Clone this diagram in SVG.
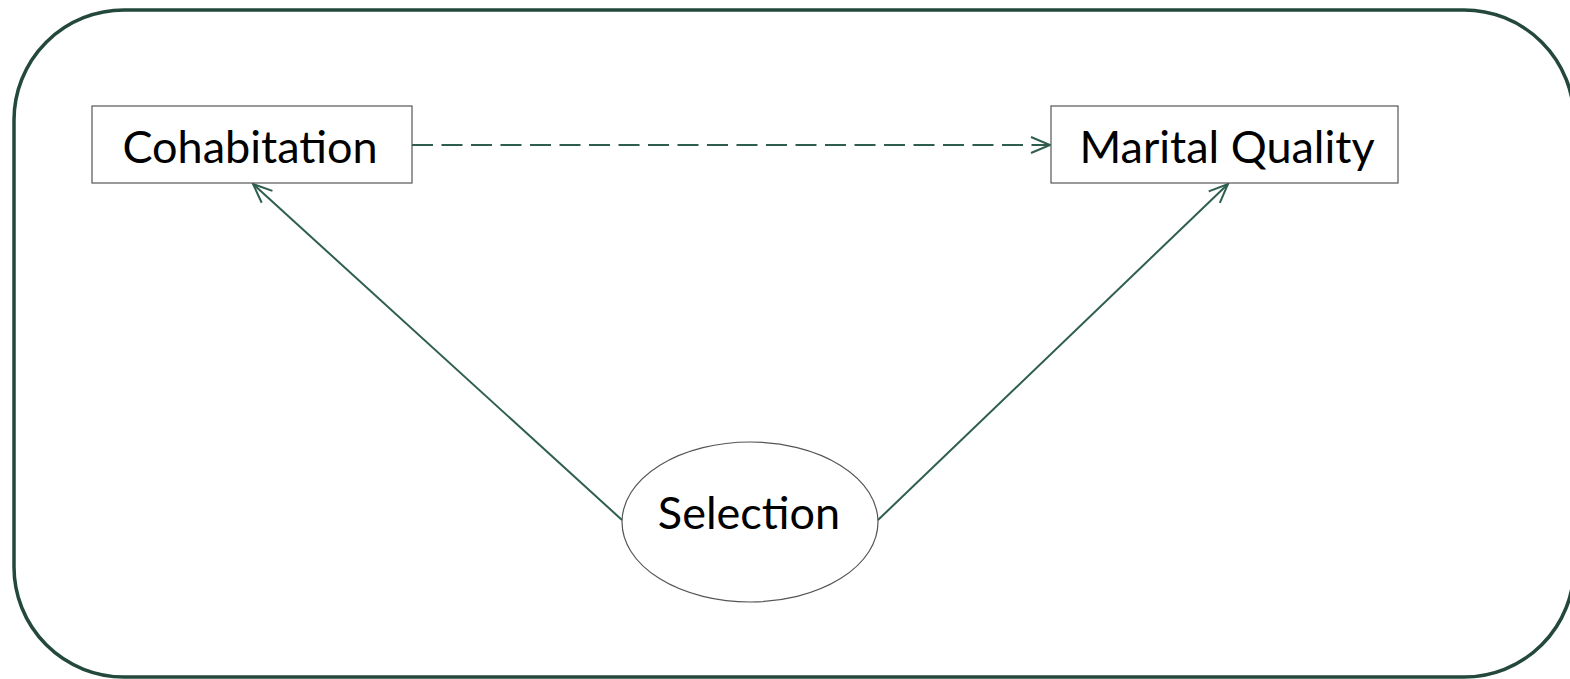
<svg xmlns="http://www.w3.org/2000/svg" width="1570" height="679" viewBox="0 0 1570 679">
  <defs>
    <marker id="arrow" viewBox="0 0 22 20" refX="20" refY="10" markerWidth="22" markerHeight="20" markerUnits="userSpaceOnUse" orient="auto">
      <path d="M1,2 L20,10 L1,18" fill="none" stroke="#2e5e4e" stroke-width="2" stroke-linejoin="miter"/>
    </marker>
    <style>
      .frame { fill: #ffffff; stroke: #24493c; stroke-width: 3.5; }
      .node { fill: #ffffff; stroke: #555555; stroke-width: 1.2; }
      .label { font-family: Lato, "Open Sans", sans-serif; font-size: 45px; fill: #000000; text-anchor: middle; }
      .edge { fill: none; stroke: #2e5e4e; stroke-width: 2; marker-end: url(#arrow); }
      .dashed { stroke-dasharray: 21 8.5; }
    </style>
  </defs>
  <rect width="1570" height="679" fill="#ffffff"/>
  <!-- outer rounded frame -->
  <rect class="frame" x="14" y="10" width="1560" height="667" rx="110" ry="110"/>

  <g id="connectors">
    <line class="edge dashed" x1="412" y1="145" x2="1050" y2="145"/>
    <line class="edge" x1="622" y1="520" x2="253" y2="184"/>
    <line class="edge" x1="878" y1="520" x2="1228" y2="184"/>
  </g>

  <g id="cohabitation">
    <rect class="node" x="92" y="106" width="320" height="77"/>
    <text class="label" x="250" y="163">Cohabitation</text>
  </g>

  <g id="marital-quality">
    <rect class="node" x="1051" y="106" width="347" height="77"/>
    <text class="label" x="1227" y="163">Marital Quality</text>
  </g>

  <g id="selection">
    <ellipse class="node" cx="750" cy="522" rx="128" ry="80"/>
    <text class="label" x="749" y="529">Selection</text>
  </g>
</svg>
